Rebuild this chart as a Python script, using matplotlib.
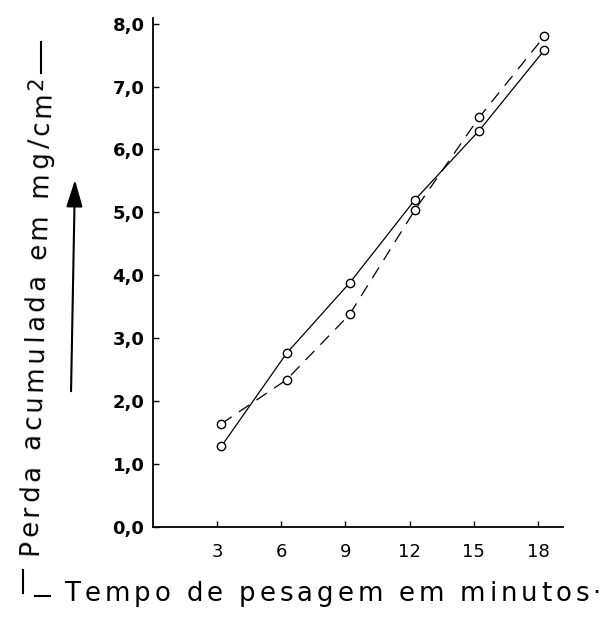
import math
import matplotlib
matplotlib.use("Agg")
import matplotlib.pyplot as plt
from matplotlib.lines import Line2D
from matplotlib.patches import FancyArrowPatch
from matplotlib.font_manager import FontProperties, findfont
from matplotlib.ft2font import FT2Font

# Weighing times (minutes) and accumulated loss (mg/cm^2) for the two test series
minutos = [3.2, 6.25, 9.2, 12.25, 15.25, 18.3]
perda_continua = [1.28, 2.76, 3.88, 5.20, 6.30, 7.58]
perda_tracejada = [1.64, 2.34, 3.38, 5.04, 6.51, 7.80]

xticks = [3, 6, 9, 12, 15, 18]
xtick_labels = ["3", "6", "9", "12", "15", "18"]
yticks = [0, 1, 2, 3, 4, 5, 6, 7, 8]
ytick_labels = ["0,0", "1,0", "2,0", "3,0", "4,0", "5,0", "6,0", "7,0", "8,0"]

W, H = 606, 623
DPI = 100
LABEL_PT = 18.7

fig = plt.figure(figsize=(W / DPI, H / DPI), dpi=DPI)
ax = fig.add_axes([152.8 / W, 1 - 527 / H, (563 - 152.8) / W, (527 - 18) / H])

marker_style = dict(marker="o", ms=6, mfc="white", mec="black", mew=1.0)
ax.plot(minutos, perda_continua, color="black", lw=0.9, linestyle="-", **marker_style)
ax.plot(minutos, perda_tracejada, color="black", lw=0.9, linestyle=(0, (10, 7)), **marker_style)

ax.set_xlim(0, 19.17)
ax.set_ylim(0, 8.09)
for side in ("top", "right"):
    ax.spines[side].set_visible(False)
for side in ("left", "bottom"):
    ax.spines[side].set_linewidth(1.3)

ax.set_xticks(xticks)
ax.set_xticklabels(xtick_labels, fontsize=13)
ax.set_yticks(yticks)
ax.set_yticklabels(ytick_labels, fontsize=13, fontweight="bold")
ax.tick_params(axis="both", direction="in", length=4, width=1)
ax.tick_params(axis="x", pad=11.5)
ax.tick_params(axis="y", pad=6)

# Stencil-style lettering: characters spread evenly along a baseline
_face = FT2Font(findfont(FontProperties(family="DejaVu Sans")))


def advances(text, size_pt):
    _face.set_size(size_pt, DPI)
    return [_face.load_char(ord(c)).linearHoriAdvance / 65536 for c in text]


def spread_text(text, origin, length, angle, size_pt=LABEL_PT, lift=0.0):
    """Spread `text` over `length` px along a baseline from `origin` (px, y up)."""
    adv = advances(text, size_pt)
    track = (length - sum(adv)) / (len(text) - 1) if len(text) > 1 else 0
    a = math.radians(angle)
    dx, dy = math.cos(a), math.sin(a)
    ox, oy = origin[0] - dy * lift, origin[1] + dx * lift
    s = 0.0
    for c, w in zip(text, adv):
        if c != " ":
            fig.text((ox + s * dx) / W, (oy + s * dy) / H, c, rotation=angle,
                     rotation_mode="anchor", ha="left", va="baseline", fontsize=size_pt)
        s += w + track
    return s


# y label, read bottom to top along a slightly leaning baseline
Y_ANGLE = 88.4
a = math.radians(Y_ANGLE)
y_len = (555 - 92) / math.sin(a)
spread_text("Perda acumulada em mg/cm", (37, H - 555), y_len, Y_ANGLE)
sup_start = (37 + (y_len + 2) * math.cos(a), H - 555 + (y_len + 2) * math.sin(a))
spread_text("2", sup_start, 0, Y_ANGLE, size_pt=15, lift=7)
fig.add_artist(Line2D([23 / W, 23 / W], [1 - 593 / H, 1 - 570 / H], color="black", lw=1.5))
fig.add_artist(Line2D([41 / W, 41 / W], [1 - 73 / H, 1 - 42 / H], color="black", lw=1.5))

# x label
spread_text("Tempo de pesagem em minutos·", (65, H - 601), 606 - 65 - 5, 0)
fig.add_artist(Line2D([35 / W, 50 / W], [1 - 596 / H, 1 - 596 / H], color="black", lw=1.5))

# Upward arrow beside the y label
fig.add_artist(FancyArrowPatch((71 / W, 1 - 394 / H), (75 / W, 1 - 177 / H),
                               transform=fig.transFigure,
                               arrowstyle="-|>,head_length=1.66,head_width=0.5",
                               mutation_scale=10, lw=1.5, color="black"))

fig.savefig("out.png", dpi=DPI, facecolor="white")
